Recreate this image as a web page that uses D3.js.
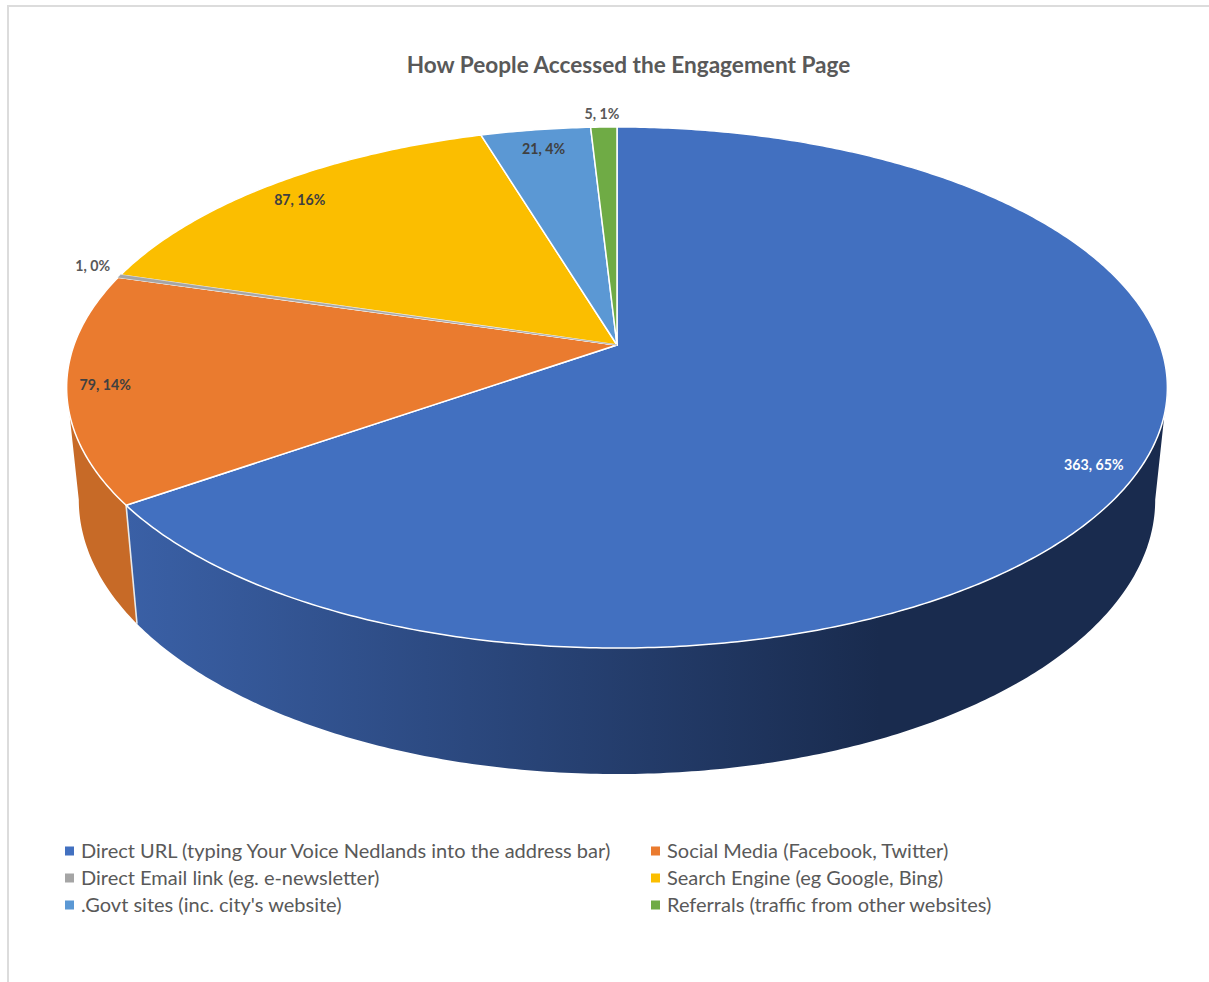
<!DOCTYPE html>
<html>
<head>
<meta charset="utf-8">
<title>How People Accessed the Engagement Page</title>
<script src="https://cdn.jsdelivr.net/npm/d3@7"></script>
<style>
  html, body { margin: 0; padding: 0; background: #fff; }
  svg { display: block; }
  text { font-family: Lato, "Open Sans", sans-serif; }
</style>
</head>
<body>
<svg id="chart" width="1209" height="982"></svg>
<script>
// Visits to the engagement page, by access route
const categories = [
  "Direct URL (typing Your Voice Nedlands into the address bar)",
  "Social Media (Facebook, Twitter)",
  "Direct Email link (eg. e-newsletter)",
  "Search Engine (eg Google, Bing)",
  ".Govt sites (inc. city's website)",
  "Referrals (traffic from other websites)"
];
const visits = [363, 79, 1, 87, 21, 5];
const topColours = ["#4270c0", "#ea7b2f", "#a5a5a5", "#fbbe00", "#5b98d4", "#6fab45"];
const title = "How People Accessed the Engagement Page";

// Where each value label sits along its slice's middle angle (1 = on the rim)
const labelRadius = [0.925, 0.93, 1.05, 0.91, 0.9, 1.07];
const labelShift = [[-2, 3], [-1, 1], [-3, -7], [-1, 3], [1, 0], [-1, 0]];
const labelColours = ["#ffffff", "#404040", "#595959", "#404040", "#404040", "#595959"];

const svg = d3.select("#chart");
const colour = d3.scaleOrdinal(categories, topColours);

// Perspective view of a circular disc: the far half is foreshortened, so the
// hub sits above the middle of the projected ellipse.
const tilt = 0.1631;
const topFace = { cx: 617, cy: 345, a: 543, b: 253.6 };
const bottomFace = { cx: 617, cy: 455, a: 531, b: 267 };

function project(face, angle, r = 1) {
  const u = r * Math.sin(angle), v = r * Math.cos(angle);
  const w = 1 + tilt * v;
  return [face.cx + face.a * u / w, face.cy - face.b * v / w];
}
function rim(face, from, to) {
  const n = Math.max(2, Math.ceil(Math.abs(to - from) / 0.01));
  return d3.range(n + 1).map(i => project(face, from + (to - from) * i / n));
}

const slices = d3.pie().sort(null).value(d => d.value)(
  categories.map((name, i) => ({ name, value: visits[i] }))
);
const line = d3.line();

// Outer frame
svg.append("path")
  .attr("d", "M8,982V6H1209")
  .attr("fill", "none").attr("stroke", "#dcdcdc").attr("stroke-width", 2);

// Title
svg.append("text").text(title)
  .attr("x", 628.5).attr("y", 72.5)
  .attr("text-anchor", "middle")
  .attr("font-size", 22.6).attr("font-weight", 700)
  .attr("fill", "#595959");

// Wall shading runs dark towards the right
const defs = svg.append("defs");
const wallShade = defs.append("linearGradient")
  .attr("id", "wallShade")
  .attr("gradientUnits", "userSpaceOnUse")
  .attr("x1", 126).attr("x2", 880).attr("y1", 0).attr("y2", 0);
wallShade.append("stop").attr("offset", 0).attr("stop-color", "#3a60a6");
wallShade.append("stop").attr("offset", 1).attr("stop-color", "#192b4e");

// The wall is visible between the two outermost points of the ellipse
const wallFrom = Math.acos(-tilt);
const wallTo = 2 * Math.PI - wallFrom;
const wallFills = { 0: "url(#wallShade)", 1: "#c76a27" };

const walls = svg.append("g");
slices.forEach((s, i) => {
  const from = Math.max(s.startAngle, wallFrom);
  const to = Math.min(s.endAngle, wallTo);
  if (to <= from) return;
  const outline = rim(topFace, from, to).concat(rim(bottomFace, to, from));
  walls.append("path")
    .attr("d", line(outline) + "Z")
    .attr("fill", wallFills[i] || colour(s.data.name));
});

// Divider where two slices meet on the wall
slices.slice(0, -1).forEach(s => {
  const at = s.endAngle;
  if (at <= wallFrom || at >= wallTo) return;
  walls.append("path")
    .attr("d", line([project(topFace, at), project(bottomFace, at)]))
    .attr("stroke", "#e9e9e9").attr("stroke-width", 1.6).attr("fill", "none");
});

// Top face of the pie
const wedge = s => line([[topFace.cx, topFace.cy]].concat(rim(topFace, s.startAngle, s.endAngle))) + "Z";
svg.append("g").selectAll("path").data(slices).join("path")
  .attr("d", wedge)
  .attr("fill", s => colour(s.data.name))
  .attr("stroke", "#ffffff").attr("stroke-width", 1.5).attr("stroke-linejoin", "round");

// The sliver for the smallest slice would vanish under its neighbours' edges,
// so it goes back on top with a hairline of its own colour
svg.append("path")
  .datum(slices[2])
  .attr("d", wedge)
  .attr("fill", s => colour(s.data.name))
  .attr("stroke", s => colour(s.data.name)).attr("stroke-width", 0.5);

// Value labels: "count, share"
const total = d3.sum(visits);
const pct = d3.format(".0%");
svg.append("g").selectAll("text").data(slices).join("text")
  .text(s => `${s.data.value}, ${pct(s.data.value / total)}`)
  .attr("x", (s, i) => project(topFace, (s.startAngle + s.endAngle) / 2, labelRadius[i])[0] + labelShift[i][0])
  .attr("y", (s, i) => project(topFace, (s.startAngle + s.endAngle) / 2, labelRadius[i])[1] + labelShift[i][1] + 5)
  .attr("text-anchor", "middle")
  .attr("font-size", 14.2).attr("font-weight", 700)
  .attr("fill", (s, i) => labelColours[i]);

// Legend, two columns filled row by row
const legendX = d3.scaleOrdinal([0, 1], [65, 651]);
const legendY = d3.scalePoint([0, 1, 2], [851, 905]);
const legend = svg.append("g").selectAll("g").data(categories).join("g")
  .attr("transform", (d, i) => `translate(${legendX(i % 2)},${legendY(Math.floor(i / 2))})`);
legend.append("rect")
  .attr("x", 0).attr("y", -4.5).attr("width", 9).attr("height", 9)
  .attr("fill", d => colour(d));
legend.append("text").text(d => d)
  .attr("x", 16).attr("y", 7)
  .attr("font-size", 20)
  .attr("fill", "#595959");
</script>
</body>
</html>
